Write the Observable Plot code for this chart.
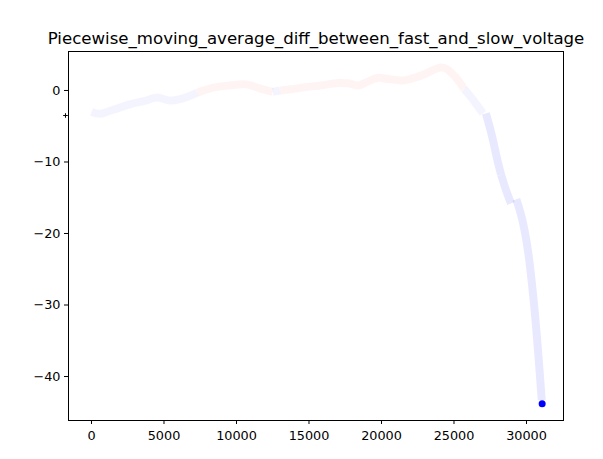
<!DOCTYPE html>
<html>
<head>
<meta charset="utf-8">
<script src="https://cdn.jsdelivr.net/npm/d3@7"></script>
<script src="https://cdn.jsdelivr.net/npm/@observablehq/plot@0.6"></script>
<style>
  html, body { margin: 0; padding: 0; background: white; }
</style>
</head>
<body>
<div id="chart"></div>
<script>
const title = "Piecewise_moving_average_diff_between_fast_and_slow_voltage";

// piece 1
const x1 = [0, 600, 1500, 2700, 3600, 4500, 5400, 6300, 7300, 8400, 9500, 10700, 11600, 12500, 13000, 13900, 14700, 15800, 17000, 17700, 18400, 19000, 19700, 20500, 21500, 22300, 23000, 23600, 24100, 24500, 24800, 25300, 25700, 26200, 26600, 27000];
const y1 = [-3.0, -3.25, -2.7, -1.9, -1.5, -1.0, -1.4, -1.1, -0.3, 0.4, 0.7, 0.85, 0.3, -0.2, 0.0, 0.2, 0.45, 0.7, 1.05, 1.0, 0.7, 1.2, 1.75, 1.6, 1.4, 1.8, 2.3, 2.9, 3.2, 3.0, 2.5, 1.4, 0.2, -1.0, -2.1, -3.2];
// piece 2
const x2 = [27200, 27600, 28000, 28250];
const y2 = [-3.2, -6.2, -9.8, -11.8];
// piece 3
const x3 = [28250, 28600, 28930];
const y3 = [-11.8, -14.0, -15.8];
// piece 4
const x4 = [29300, 29700, 30100, 30500, 30800, 31050];
const y4 = [-15.2, -18.0, -22.4, -29.5, -36.5, -43.3];
// last point
const lastX = [31080];
const lastY = [-43.8];
// stray marker left of the axis
const strayX = [-1795];
const strayY = [-3.5];

const pieces = [[x1, y1], [x2, y2], [x3, y3], [x4, y4]];

// split each piece into runs of same sign for colouring
const rows = [];
let run = 0;
pieces.forEach(([xs, ys], pi) => {
  let prevSign = null;
  for (let i = 0; i < xs.length - 1; i++) {
    const mid = (ys[i] + ys[i + 1]) / 2;
    const s = mid >= 0 ? "pos" : "neg";
    if (s !== prevSign) {
      run++;
      rows.push({x: xs[i], y: ys[i], run, sign: s, piece: pi});
      prevSign = s;
    }
    rows.push({x: xs[i + 1], y: ys[i + 1], run, sign: s, piece: pi});
  }
  run++;
});
const runMax = d3.rollup(rows, v => d3.max(v, d => Math.abs(d.y)), d => d.run);

const plot = Plot.plot({
  width: 603,
  height: 459,
  marginLeft: 68,
  marginRight: 40,
  marginTop: 51,
  marginBottom: 39,
  style: {fontFamily: "DejaVu Sans, sans-serif", fontSize: "12.8px", color: "black", background: "white", overflow: "visible"},
  x: {domain: [-1586, 32552], ticks: [0, 5000, 10000, 15000, 20000, 25000, 30000], tickFormat: d => String(d), label: null, tickSize: 4, tickPadding: 6},
  y: {domain: [-46.15, 5.45], ticks: [0, -10, -20, -30, -40], label: null, tickSize: 4, tickPadding: 4},
  marks: [
    Plot.line(rows, {
      x: "x", y: "y", z: "run",
      stroke: d => d.sign === "pos" ? "red" : "blue",
      strokeOpacity: d => runMax.get(d.run) > 5 ? 0.09 : 0.045,
      strokeWidth: 8,
      strokeLinecap: "butt",
      strokeLinejoin: "round",
      curve: "catmull-rom"
    }),
    Plot.dot(lastX.map((x, i) => ({x, y: lastY[i]})), {x: "x", y: "y", r: 3.5, fill: "blue", stroke: "none"}),
    Plot.dot(strayX.map((x, i) => ({x, y: strayY[i]})), {x: "x", y: "y", r: 1.6, symbol: "plus", stroke: "black", strokeWidth: 1}),
    Plot.frame({stroke: "black", strokeWidth: 1}),
    Plot.text([title], {frameAnchor: "top", dy: -13, lineAnchor: "middle", fontSize: 16.6, fill: "black"})
  ]
});
document.getElementById("chart").appendChild(plot);
</script>
</body>
</html>
